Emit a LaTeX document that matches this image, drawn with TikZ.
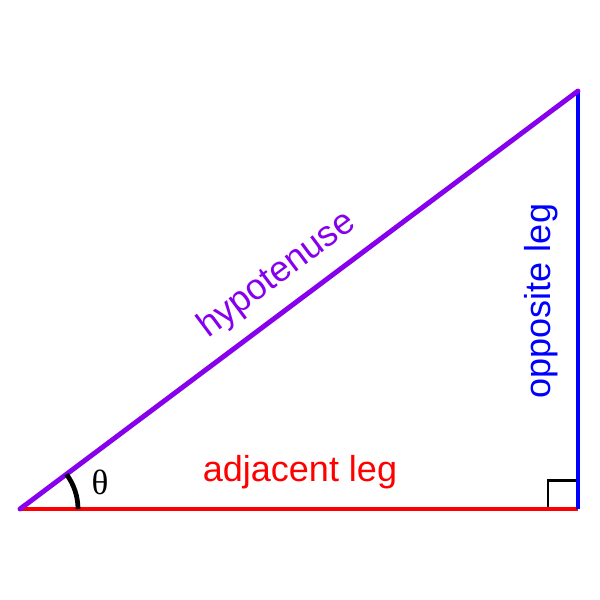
\documentclass[tikz,border=0pt]{standalone}
\usepackage{fontspec}
\setmainfont{Liberation Sans}
\newfontfamily\thetafont{Liberation Serif}
\usetikzlibrary{positioning}
\definecolor{hypviolet}{rgb}{0.53, 0.0, 0.93}

\begin{document}
\begin{tikzpicture}[
    x=0.02cm, y=-0.02cm,
    leg/.style={line width=2.8pt},
    label/.style={font=\fontsize{20.5}{24}\selectfont, inner sep=0pt},
]
\useasboundingbox (0,0) rectangle (600,600);

% Corners
\coordinate (A) at (20,509);
\coordinate (B) at (578,509);
\coordinate (C) at (578,91);

% Right angle
\draw[line width=1.7pt, black] (548,509) -- (548,480) -- (B |- 0,480);

% Sides
\draw[leg, red] (A) -- (B);
\draw[leg, blue] (B) -- (C);
\draw[leg, hypviolet, line cap=round] (A) -- (C);

% Angle
\draw[line width=2.7pt, black] (78,509) arc[start angle=0, end angle=-36.8, radius=58];
\node[font=\thetafont\fontsize{20}{24}\selectfont] (theta) at (100,482) {θ};

% Labels
\node[label, red] (adj) at (300,472) {adjacent leg};
\node[label, blue, rotate=90] (opp) at (541,301) {opposite leg};
\node[label, hypviolet, rotate=36.8] (hyp) at (277,275) {hypotenuse};

\end{tikzpicture}
\end{document}
